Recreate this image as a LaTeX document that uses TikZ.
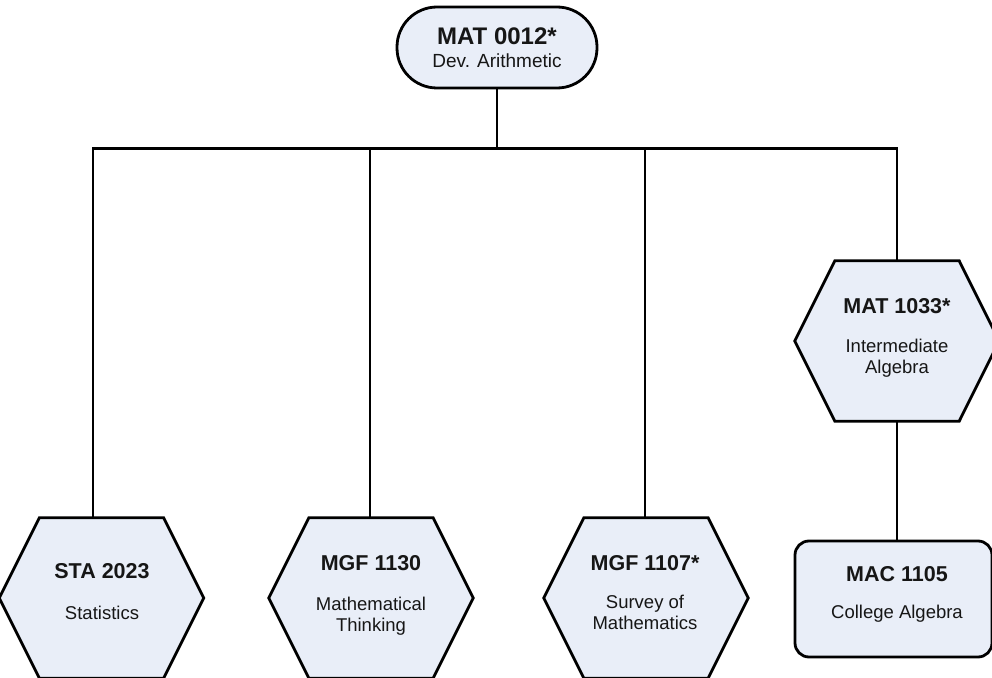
\documentclass[tikz,border=0pt]{standalone}
\usepackage{fontspec}
\setmainfont{Liberation Sans}
\definecolor{boxfill}{RGB}{233,238,248}
\definecolor{txt}{RGB}{22,22,22}
\newcommand\drawhex[1]{%
  \draw[outline] ([xshift=40bp]#1.north west) -- ([xshift=-40bp]#1.north east) -- (#1.east)
    -- ([xshift=-40bp]#1.south east) -- ([xshift=40bp]#1.south west) -- (#1.west) -- cycle;}
\begin{document}
\begin{tikzpicture}[x=1bp,y=-1bp,
  conn/.style={line width=2.8bp, draw=black},
  outline/.style={line width=2.8bp, draw=black, fill=boxfill, line join=miter},
  hexarea/.style={minimum width=204bp, minimum height=160bp, inner sep=0pt, draw=none},
  head/.style={font=\fontsize{21.5bp}{24bp}\selectfont\bfseries, text=txt, inner sep=0pt, anchor=base},
  sub/.style={font=\fontsize{18.5bp}{21bp}\selectfont, text=txt, inner sep=0pt, anchor=base},
  tophead/.style={font=\fontsize{24bp}{26bp}\selectfont\bfseries, text=txt, inner sep=0pt, anchor=base},
  topsub/.style={font=\fontsize{19bp}{21bp}\selectfont, text=txt, inner sep=0pt, anchor=base},
]
\useasboundingbox (0,0) rectangle (992,678);
% shapes
\node[outline, rounded corners=40bp, minimum width=200bp, minimum height=81bp, inner sep=0pt] (top) at (497,47.5) {};
\node[hexarea] (sta) at (101.5,598) {};
\node[hexarea] (mgfa) at (371,598) {};
\node[hexarea] (mgfb) at (646,598) {};
\node[hexarea] (mat) at (897,341) {};
\node[outline, rounded corners=14bp, minimum width=197bp, minimum height=116bp, inner sep=0pt] (mac) at (893.5,599) {};
\drawhex{sta}
\drawhex{mgfa}
\drawhex{mgfb}
\drawhex{mat}
% connectors
\coordinate (bus) at (497,148.5);
\coordinate (b1) at (93,148.5);
\coordinate (b2) at (370,148.5);
\coordinate (b3) at (645,148.5);
\coordinate (b4) at (897,148.5);
\draw[conn] (top.south) -- (bus);
\draw[conn] (b1 |- sta.north) -- (b1) -- (b4) -- (mat.north);
\draw[conn] (b2) -- (b2 |- mgfa.north);
\draw[conn] (b3) -- (b3 |- mgfb.north);
\draw[conn] (mat.south) -- (mat.south |- mac.north);
% texts
\node[tophead] (topH) at (497,45) {MAT 0012*};
\node[topsub] (topS) at (497,68) {Dev. Arithmetic};
\node[head] (staH) at (102,578) {STA 2023};
\node[sub] (staS) at (102,619) {Statistics};
\node[head] (mgfaH) at (371,570) {MGF 1130};
\node[sub] (mgfaS1) at (371,610) {Mathematical};
\node[sub] (mgfaS2) at (371,631) {Thinking};
\node[head] (mgfbH) at (645,570) {MGF 1107*};
\node[sub] (mgfbS1) at (645,608) {Survey of};
\node[sub] (mgfbS2) at (645,629) {Mathematics};
\node[head] (matH) at (897,313) {MAT 1033*};
\node[sub] (matS1) at (897,352) {Intermediate};
\node[sub] (matS2) at (897,373) {Algebra};
\node[head] (macH) at (897,581) {MAC 1105};
\node[sub] (macS) at (897,618) {College Algebra};
\end{tikzpicture}
\end{document}
